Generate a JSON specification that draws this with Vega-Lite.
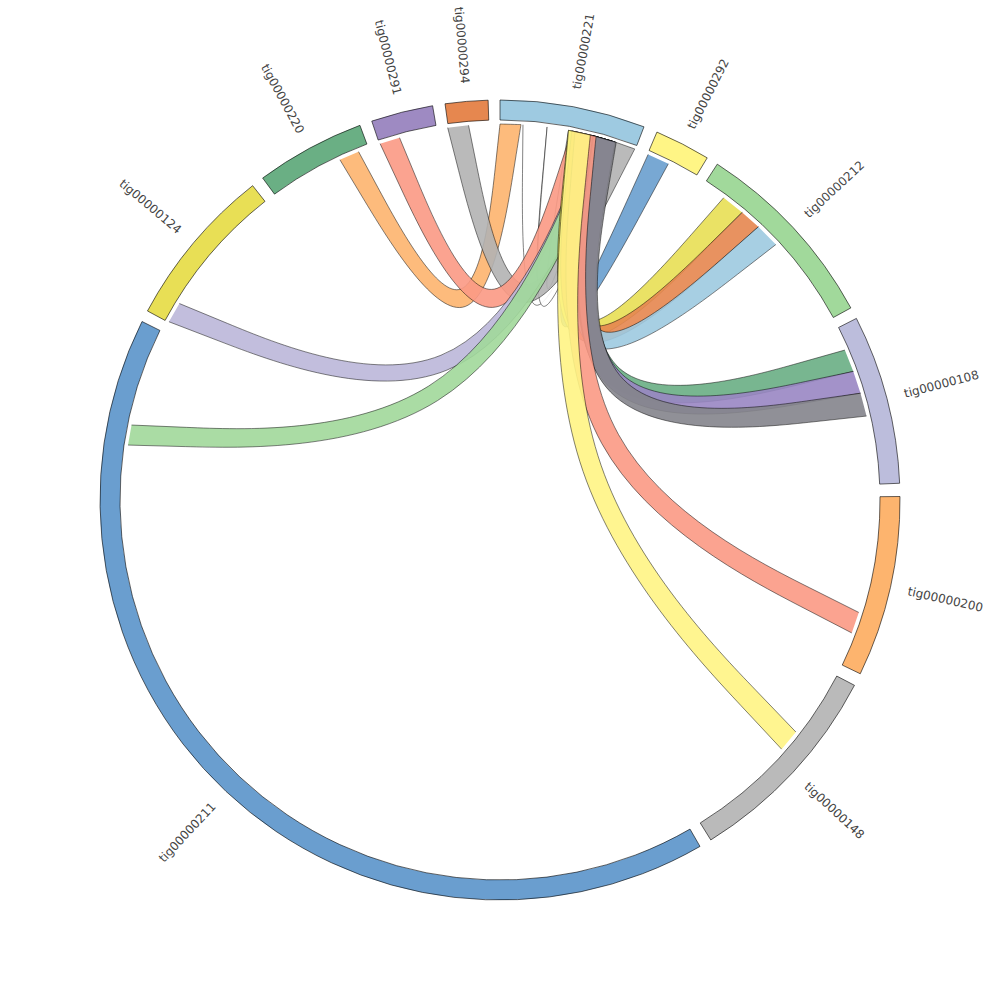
{
  "$schema": "https://vega.github.io/schema/vega-lite/v6.json",
  "description": "Chord diagram of contig alignments: ribbons link aligned regions, outer arcs are contigs.",
  "width": 1000,
  "height": 1000,
  "padding": 0,
  "autosize": "none",
  "background": "white",
  "view": {"stroke": null},
  "datasets": {
    "contigs": [
      {"name": "tig00000221", "start": 0.0, "end": 21.1, "mid": 10.55},
      {"name": "tig00000292", "start": 23.1, "end": 31.2, "mid": 27.15},
      {"name": "tig00000212", "start": 32.9, "end": 61.3, "mid": 47.1},
      {"name": "tig00000108", "start": 63.0, "end": 87.6, "mid": 75.3},
      {"name": "tig00000200", "start": 89.5, "end": 115.75, "mid": 102.6},
      {"name": "tig00000148", "start": 117.6, "end": 148.2, "mid": 132.9},
      {"name": "tig00000211", "start": 150.0, "end": 296.5, "mid": 223.25},
      {"name": "tig00000124", "start": 298.2, "end": 321.8, "mid": 310.0},
      {"name": "tig00000220", "start": 323.6, "end": 339.5, "mid": 331.55},
      {"name": "tig00000291", "start": 341.3, "end": 350.3, "mid": 345.8},
      {"name": "tig00000294", "start": 352.1, "end": 358.3, "mid": 355.2}
    ],
    "ribbons": [
      {"c": "c01", "i": 1, "lon": -157.9, "lat": 52.4},
      {"c": "c01", "i": 2, "lon": -168.98, "lat": 76.29},
      {"c": "c01", "i": 3, "lon": 180, "lat": 52.4},
      {"c": "c01", "i": 4, "lon": 180, "lat": 52.4},
      {"c": "c01", "i": 5, "lon": 180, "lat": 52.4},
      {"c": "c01", "i": 6, "lon": 176.8, "lat": 52.4},
      {"c": "c01", "i": 7, "lon": 176.8, "lat": 52.4},
      {"c": "c01", "i": 8, "lon": 176.8, "lat": 52.4},
      {"c": "c01", "i": 9, "lon": -168.98, "lat": 78.77},
      {"c": "c01", "i": 10, "lon": -154.8, "lat": 52.4},

      {"c": "c02", "i": 1, "lon": 172.8, "lat": 52.4},
      {"c": "c02", "i": 2, "lon": 169.33, "lat": 76.34},
      {"c": "c02", "i": 3, "lon": 165.4, "lat": 52.4},
      {"c": "c02", "i": 4, "lon": 165.4, "lat": 52.4},
      {"c": "c02", "i": 5, "lon": 165.4, "lat": 52.4},
      {"c": "c02", "i": 6, "lon": 162.6, "lat": 52.4},
      {"c": "c02", "i": 7, "lon": 162.6, "lat": 52.4},
      {"c": "c02", "i": 8, "lon": 162.6, "lat": 52.4},
      {"c": "c02", "i": 9, "lon": 169.33, "lat": 78.94},
      {"c": "c02", "i": 10, "lon": 176.5, "lat": 52.4},

      {"c": "c03", "i": 1, "lon": 169.5, "lat": 52.4},
      {"c": "c03", "i": 2, "lon": 167.28, "lat": 76.3},
      {"c": "c03", "i": 3, "lon": 164.8, "lat": 52.4},
      {"c": "c03", "i": 4, "lon": 164.8, "lat": 52.4},
      {"c": "c03", "i": 5, "lon": 164.8, "lat": 52.4},
      {"c": "c03", "i": 6, "lon": 162.0, "lat": 52.4},
      {"c": "c03", "i": 7, "lon": 162.0, "lat": 52.4},
      {"c": "c03", "i": 8, "lon": 162.0, "lat": 52.4},
      {"c": "c03", "i": 9, "lon": 167.28, "lat": 78.94},
      {"c": "c03", "i": 10, "lon": 172.8, "lat": 52.4},

      {"c": "c04", "i": 1, "lon": -175.2, "lat": 52.4},
      {"c": "c04", "i": 2, "lon": 173.48, "lat": 75.91},
      {"c": "c04", "i": 3, "lon": 162.1, "lat": 52.4},
      {"c": "c04", "i": 4, "lon": 162.1, "lat": 52.4},
      {"c": "c04", "i": 5, "lon": 162.1, "lat": 52.4},
      {"c": "c04", "i": 6, "lon": 159.0, "lat": 52.4},
      {"c": "c04", "i": 7, "lon": 159.0, "lat": 52.4},
      {"c": "c04", "i": 8, "lon": 159.0, "lat": 52.4},
      {"c": "c04", "i": 9, "lon": 173.48, "lat": 78.37},
      {"c": "c04", "i": 10, "lon": -172.0, "lat": 52.4},

      {"c": "c05", "i": 1, "lon": -164.5, "lat": 52.4},
      {"c": "c05", "i": 2, "lon": -177.75, "lat": 76.69},
      {"c": "c05", "i": 3, "lon": 169.0, "lat": 52.4},
      {"c": "c05", "i": 4, "lon": 169.0, "lat": 52.4},
      {"c": "c05", "i": 5, "lon": 169.0, "lat": 52.4},
      {"c": "c05", "i": 6, "lon": 165.9, "lat": 52.4},
      {"c": "c05", "i": 7, "lon": 165.9, "lat": 52.4},
      {"c": "c05", "i": 8, "lon": 165.9, "lat": 52.4},
      {"c": "c05", "i": 9, "lon": -177.75, "lat": 79.13},
      {"c": "c05", "i": 10, "lon": -161.4, "lat": 52.4},

      {"c": "c06", "i": 1, "lon": -121.5, "lat": 52.4},
      {"c": "c06", "i": 2, "lon": -157.8, "lat": 81.7},
      {"c": "c06", "i": 3, "lon": 165.9, "lat": 52.4},
      {"c": "c06", "i": 4, "lon": 165.9, "lat": 52.4},
      {"c": "c06", "i": 5, "lon": 165.9, "lat": 52.4},
      {"c": "c06", "i": 6, "lon": 162.7, "lat": 52.4},
      {"c": "c06", "i": 7, "lon": 162.7, "lat": 52.4},
      {"c": "c06", "i": 8, "lon": 162.7, "lat": 52.4},
      {"c": "c06", "i": 9, "lon": -157.8, "lat": 83.46},
      {"c": "c06", "i": 10, "lon": -118.3, "lat": 52.4},

      {"c": "c07", "i": 1, "lon": -101.5, "lat": 52.4},
      {"c": "c07", "i": 2, "lon": -147.9, "lat": 82.8},
      {"c": "c07", "i": 3, "lon": 165.7, "lat": 52.4},
      {"c": "c07", "i": 4, "lon": 165.7, "lat": 52.4},
      {"c": "c07", "i": 5, "lon": 165.7, "lat": 52.4},
      {"c": "c07", "i": 6, "lon": 162.6, "lat": 52.4},
      {"c": "c07", "i": 7, "lon": 162.6, "lat": 52.4},
      {"c": "c07", "i": 8, "lon": 162.6, "lat": 52.4},
      {"c": "c07", "i": 9, "lon": -147.9, "lat": 84.6},
      {"c": "c07", "i": 10, "lon": -98.4, "lat": 52.4},

      {"c": "c08", "i": 1, "lon": 153.4, "lat": 52.4},
      {"c": "c08", "i": 2, "lon": 159.55, "lat": 80.94},
      {"c": "c08", "i": 3, "lon": 165.7, "lat": 52.4},
      {"c": "c08", "i": 4, "lon": 165.7, "lat": 52.4},
      {"c": "c08", "i": 5, "lon": 165.7, "lat": 52.4},
      {"c": "c08", "i": 6, "lon": 162.3, "lat": 52.4},
      {"c": "c08", "i": 7, "lon": 162.3, "lat": 52.4},
      {"c": "c08", "i": 8, "lon": 162.3, "lat": 52.4},
      {"c": "c08", "i": 9, "lon": 159.55, "lat": 78.32},
      {"c": "c08", "i": 10, "lon": 156.8, "lat": 52.4},

      {"c": "c09", "i": 1, "lon": 139.9, "lat": 52.4},
      {"c": "c09", "i": 2, "lon": 154.7, "lat": 81.06},
      {"c": "c09", "i": 3, "lon": 169.5, "lat": 52.4},
      {"c": "c09", "i": 4, "lon": 169.5, "lat": 52.4},
      {"c": "c09", "i": 5, "lon": 169.5, "lat": 52.4},
      {"c": "c09", "i": 6, "lon": 165.9, "lat": 52.4},
      {"c": "c09", "i": 7, "lon": 165.9, "lat": 52.4},
      {"c": "c09", "i": 8, "lon": 165.9, "lat": 52.4},
      {"c": "c09", "i": 9, "lon": 154.7, "lat": 78.62},
      {"c": "c09", "i": 10, "lon": 143.5, "lat": 52.4},

      {"c": "c10", "i": 1, "lon": 136.6, "lat": 52.4},
      {"c": "c10", "i": 2, "lon": 152.8, "lat": 81.11},
      {"c": "c10", "i": 3, "lon": 169.0, "lat": 52.4},
      {"c": "c10", "i": 4, "lon": 169.0, "lat": 52.4},
      {"c": "c10", "i": 5, "lon": 169.0, "lat": 52.4},
      {"c": "c10", "i": 6, "lon": 165.7, "lat": 52.4},
      {"c": "c10", "i": 7, "lon": 165.7, "lat": 52.4},
      {"c": "c10", "i": 8, "lon": 165.7, "lat": 52.4},
      {"c": "c10", "i": 9, "lon": 152.8, "lat": 78.69},
      {"c": "c10", "i": 10, "lon": 139.9, "lat": 52.4},

      {"c": "c11", "i": 1, "lon": 132.8, "lat": 52.4},
      {"c": "c11", "i": 2, "lon": 149.35, "lat": 81.1},
      {"c": "c11", "i": 3, "lon": 165.9, "lat": 52.4},
      {"c": "c11", "i": 4, "lon": 165.9, "lat": 52.4},
      {"c": "c11", "i": 5, "lon": 165.9, "lat": 52.4},
      {"c": "c11", "i": 6, "lon": 162.1, "lat": 52.4},
      {"c": "c11", "i": 7, "lon": 162.1, "lat": 52.4},
      {"c": "c11", "i": 8, "lon": 162.1, "lat": 52.4},
      {"c": "c11", "i": 9, "lon": 149.35, "lat": 78.72},
      {"c": "c11", "i": 10, "lon": 136.6, "lat": 52.4},

      {"c": "c12", "i": 1, "lon": 110.0, "lat": 52.4},
      {"c": "c12", "i": 2, "lon": 137.85, "lat": 82.66},
      {"c": "c12", "i": 3, "lon": 165.7, "lat": 52.4},
      {"c": "c12", "i": 4, "lon": 165.7, "lat": 52.4},
      {"c": "c12", "i": 5, "lon": 165.7, "lat": 52.4},
      {"c": "c12", "i": 6, "lon": 162.2, "lat": 52.4},
      {"c": "c12", "i": 7, "lon": 162.2, "lat": 52.4},
      {"c": "c12", "i": 8, "lon": 162.2, "lat": 52.4},
      {"c": "c12", "i": 9, "lon": 137.85, "lat": 80.46},
      {"c": "c12", "i": 10, "lon": 113.5, "lat": 52.4},

      {"c": "c13", "i": 1, "lon": 106.5, "lat": 52.4},
      {"c": "c13", "i": 2, "lon": 136.1, "lat": 82.77},
      {"c": "c13", "i": 3, "lon": 165.7, "lat": 52.4},
      {"c": "c13", "i": 4, "lon": 165.7, "lat": 52.4},
      {"c": "c13", "i": 5, "lon": 165.7, "lat": 52.4},
      {"c": "c13", "i": 6, "lon": 162.2, "lat": 52.4},
      {"c": "c13", "i": 7, "lon": 162.2, "lat": 52.4},
      {"c": "c13", "i": 8, "lon": 162.2, "lat": 52.4},
      {"c": "c13", "i": 9, "lon": 136.1, "lat": 80.61},
      {"c": "c13", "i": 10, "lon": 110.0, "lat": 52.4},

      {"c": "c14", "i": 1, "lon": 102.9, "lat": 52.4},
      {"c": "c14", "i": 2, "lon": 134.25, "lat": 82.88},
      {"c": "c14", "i": 3, "lon": 165.6, "lat": 52.4},
      {"c": "c14", "i": 4, "lon": 165.6, "lat": 52.4},
      {"c": "c14", "i": 5, "lon": 165.6, "lat": 52.4},
      {"c": "c14", "i": 6, "lon": 162.0, "lat": 52.4},
      {"c": "c14", "i": 7, "lon": 162.0, "lat": 52.4},
      {"c": "c14", "i": 8, "lon": 162.0, "lat": 52.4},
      {"c": "c14", "i": 9, "lon": 134.25, "lat": 80.76},
      {"c": "c14", "i": 10, "lon": 106.5, "lat": 52.4},

      {"c": "c15", "i": 1, "lon": 69.3, "lat": 52.4},
      {"c": "c15", "i": 2, "lon": 118.9, "lat": 84.72},
      {"c": "c15", "i": 3, "lon": 168.5, "lat": 52.4},
      {"c": "c15", "i": 4, "lon": 168.5, "lat": 52.4},
      {"c": "c15", "i": 5, "lon": 168.5, "lat": 52.4},
      {"c": "c15", "i": 6, "lon": 165.2, "lat": 52.4},
      {"c": "c15", "i": 7, "lon": 165.2, "lat": 52.4},
      {"c": "c15", "i": 8, "lon": 165.2, "lat": 52.4},
      {"c": "c15", "i": 9, "lon": 118.9, "lat": 82.68},
      {"c": "c15", "i": 10, "lon": 72.6, "lat": 52.4},

      {"c": "c16", "i": 1, "lon": 48.5, "lat": 52.4},
      {"c": "c16", "i": 2, "lon": 109.0, "lat": 86.08},
      {"c": "c16", "i": 3, "lon": 169.5, "lat": 52.4},
      {"c": "c16", "i": 4, "lon": 169.5, "lat": 52.4},
      {"c": "c16", "i": 5, "lon": 169.5, "lat": 52.4},
      {"c": "c16", "i": 6, "lon": 166.1, "lat": 52.4},
      {"c": "c16", "i": 7, "lon": 166.1, "lat": 52.4},
      {"c": "c16", "i": 8, "lon": 166.1, "lat": 52.4},
      {"c": "c16", "i": 9, "lon": 109.0, "lat": 84.18},
      {"c": "c16", "i": 10, "lon": 51.9, "lat": 52.4}
    ]
  },
  "resolve": {"scale": {"color": "independent", "angle": "independent"}},
  "layer": [
    {
      "data": {"name": "ribbons"},
      "projection": {
        "type": "azimuthalEquidistant",
        "rotate": [0, -90, 0],
        "scale": 572.9578,
        "translate": [500, 500]
      },
      "mark": {
        "type": "line",
        "filled": true,
        "interpolate": "basis",
        "stroke": "#000000",
        "strokeWidth": 0.6,
        "strokeOpacity": 0.9,
        "opacity": 0.9
      },
      "encoding": {
        "longitude": {"field": "lon", "type": "quantitative"},
        "latitude": {"field": "lat", "type": "quantitative"},
        "order": {"field": "i", "type": "quantitative"},
        "detail": {"field": "c", "type": "nominal"},
        "color": {
          "field": "c",
          "type": "nominal",
          "legend": null,
          "scale": {
            "domain": ["c01", "c02", "c03", "c04", "c05", "c06", "c07", "c08", "c09", "c10", "c11", "c12", "c13", "c14", "c15", "c16"],
            "range": ["#fdb46e", "#ffffff", "#ffffff", "#b3b3b3", "#fb9a85", "#bcb8da", "#a1d99b", "#6a9fcf", "#e8df55", "#e6874f", "#9ecae1", "#6aaf84", "#9a87c4", "#85858c", "#fb9a85", "#fff585"]
          }
        }
      }
    },
    {
      "data": {"name": "contigs"},
      "mark": {"type": "arc", "radius": 400, "radius2": 380, "stroke": "#000000", "strokeWidth": 0.6},
      "encoding": {
        "theta": {"field": "start", "type": "quantitative", "stack": null, "scale": {"domain": [0, 360], "range": [0, 6.283185307179586]}},
        "theta2": {"field": "end"},
        "color": {
          "field": "name",
          "type": "nominal",
          "legend": null,
          "scale": {
            "domain": ["tig00000221", "tig00000292", "tig00000212", "tig00000108", "tig00000200", "tig00000148", "tig00000211", "tig00000124", "tig00000220", "tig00000291", "tig00000294"],
            "range": ["#9ecae1", "#fff585", "#a1d99b", "#bcbddc", "#fdb46e", "#bababa", "#6a9ecf", "#e8df55", "#6aaf84", "#9e8ac2", "#e6874f"]
          }
        }
      }
    },
    {
      "data": {"name": "contigs"},
      "transform": [{"filter": "datum.mid < 180"}],
      "mark": {"type": "text", "radius": 418, "align": "left", "baseline": "middle", "font": "DejaVu Sans", "fontSize": 12, "color": "#444444"},
      "encoding": {
        "theta": {"field": "mid", "type": "quantitative", "stack": null, "scale": {"domain": [0, 360], "range": [0, 6.283185307179586]}},
        "angle": {"field": "mid", "type": "quantitative", "scale": {"domain": [0, 360], "range": [-90, 270]}},
        "text": {"field": "name"}
      }
    },
    {
      "data": {"name": "contigs"},
      "transform": [{"filter": "datum.mid >= 180"}],
      "mark": {"type": "text", "radius": 418, "align": "right", "baseline": "middle", "font": "DejaVu Sans", "fontSize": 12, "color": "#444444"},
      "encoding": {
        "theta": {"field": "mid", "type": "quantitative", "stack": null, "scale": {"domain": [0, 360], "range": [0, 6.283185307179586]}},
        "angle": {"field": "mid", "type": "quantitative", "scale": {"domain": [0, 360], "range": [-270, 90]}},
        "text": {"field": "name"}
      }
    }
  ]
}
